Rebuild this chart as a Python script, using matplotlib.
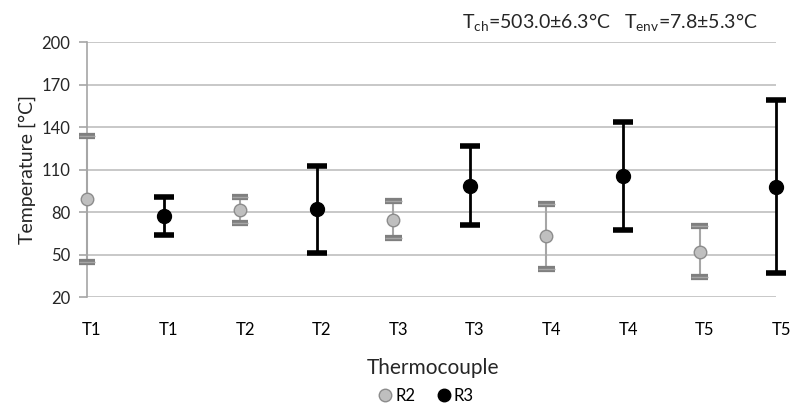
import numpy as np
import matplotlib.pyplot as plt
import matplotlib.patheffects as pe
import matplotlib.transforms as mtransforms

plt.rcParams['font.family'] = ['Lato', 'DejaVu Sans']

labels = ['T1', 'T1', 'T2', 'T2', 'T3', 'T3', 'T4', 'T4', 'T5', 'T5']
r2_mean = [89.5, 81.5, 74.7, 62.9, 51.9]
r2_err = [44.5, 9.0, 13.0, 23.0, 18.0]
r3_mean = [77.0, 81.8, 98.7, 105.3, 97.8]
r3_err = [13.3, 30.7, 28.2, 38.0, 61.0]

fig = plt.figure(figsize=(7.95, 4.08), dpi=100)
ax = fig.add_axes([0.1094, 0.272, 0.867, 0.625])

x2 = np.arange(0, 10, 2)
x3 = np.arange(1, 10, 2)

# R2 - grey
c2 = ax.errorbar(x2, r2_mean, yerr=r2_err, fmt='o', color='#a6a6a6', ecolor='#a6a6a6',
                 elinewidth=1.5, capsize=6, capthick=3, markersize=9,
                 markerfacecolor='#bfbfbf', markeredgecolor='#8c8c8c', markeredgewidth=1,
                 label='R2', zorder=3)
for cl in c2[1]:
    cl.set_path_effects([pe.Stroke(linewidth=4.5, foreground='#7f7f7f'), pe.Normal()])
    cl.set_color('#bfbfbf')

# R3 - black
c3 = ax.errorbar(x3, r3_mean, yerr=r3_err, fmt='o', color='black', ecolor='black',
                 elinewidth=2, capsize=7.5, capthick=4, markersize=10,
                 label='R3', zorder=4)

for c in (c2, c3):
    c[0].set_clip_on(False)
    for cl in c[1]:
        cl.set_clip_on(False)
    for bl in c[2]:
        bl.set_clip_on(False)

ax.set_xlim(0, 9)
ax.set_ylim(20, 200)
ax.set_yticks([20, 50, 80, 110, 140, 170, 200])
ax.set_xticks(np.arange(10))
ax.set_xticklabels(labels)
ax.yaxis.grid(True, color='#bfbfbf', linewidth=1.2)
ax.set_axisbelow(True)

for s in ['top', 'right', 'bottom']:
    ax.spines[s].set_visible(False)
ax.spines['left'].set_color('#a6a6a6')
ax.spines['left'].set_linewidth(1.2)
ax.tick_params(axis='y', colors='#a6a6a6', length=6, width=1.2, labelcolor='#262626',
               labelsize=12, pad=6)
ax.tick_params(axis='x', length=0, labelcolor='black', labelsize=12, pad=18)
off = mtransforms.ScaledTranslation(5 / 100, 0, fig.dpi_scale_trans)
for t in ax.get_xticklabels():
    t.set_transform(t.get_transform() + off)

ax.set_ylabel('Temperature [°C]', fontsize=14, color='#262626', labelpad=4)
fig.text(0.545, 1 - 368 / 408, 'Thermocouple', ha='center', va='center', fontsize=15,
         color='#262626')

fig.text(0.581, 1 - 22 / 408,
         r'$\mathregular{T_{ch}}$=503.0±6.3°C   $\mathregular{T_{env}}$=7.8±5.3°C',
         ha='left', va='center', fontsize=14, color='#262626')

h2 = plt.Line2D([], [], marker='o', ls='none', markersize=9,
                markerfacecolor='#bfbfbf', markeredgecolor='#8c8c8c')
h3 = plt.Line2D([], [], marker='o', ls='none', markersize=9, color='black')
fig.legend([h2, h3], ['R2', 'R3'], loc='center', bbox_to_anchor=(0.535, 1 - 396 / 408),
           ncol=2, frameon=False, fontsize=12, handletextpad=0.1, columnspacing=1.2,
           handlelength=1.0)

fig.savefig('out.png', dpi=100)
